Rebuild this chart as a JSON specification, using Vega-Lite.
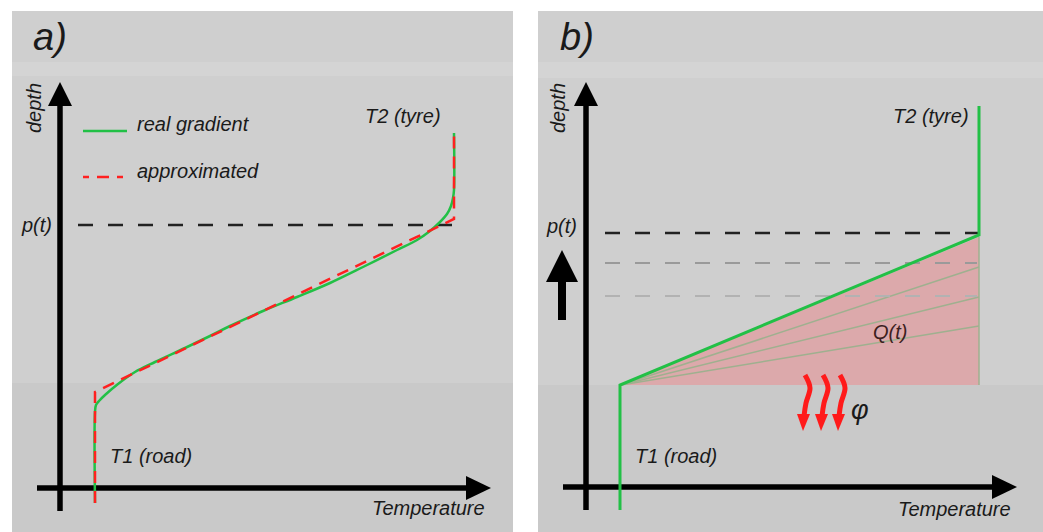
{
  "$schema": "https://vega.github.io/schema/vega-lite/v6.json",
  "width": 1043,
  "height": 532,
  "autosize": {"type": "fit", "contains": "padding"},
  "padding": 0,
  "background": "#ffffff",
  "config": {"view": {"stroke": null}},
  "encoding": {
    "x": {"field": "x", "type": "quantitative", "scale": {"domain": [0, 1043], "nice": false, "zero": false}, "axis": null},
    "y": {"field": "y", "type": "quantitative", "scale": {"domain": [0, 532], "nice": false, "zero": false, "reverse": true}, "axis": null}
  },
  "layer": [
    {
      "data": {"values": [{"x": 12, "x2": 513, "y": 11, "y2": 384}, {"x": 538, "x2": 1043, "y": 11, "y2": 385}]},
      "mark": {"type": "rect", "color": "#cfcfcf"},
      "encoding": {"x2": {"field": "x2"}, "y2": {"field": "y2"}}
    },
    {
      "data": {"values": [{"x": 12, "x2": 513, "y": 62, "y2": 76}, {"x": 538, "x2": 1043, "y": 62, "y2": 78}]},
      "mark": {"type": "rect", "color": "#d4d4d4"},
      "encoding": {"x2": {"field": "x2"}, "y2": {"field": "y2"}}
    },
    {
      "data": {"values": [{"x": 12, "x2": 513, "y": 383, "y2": 532}, {"x": 538, "x2": 1043, "y": 385, "y2": 532}]},
      "mark": {"type": "rect", "color": "#c9c9c9"},
      "encoding": {"x2": {"field": "x2"}, "y2": {"field": "y2"}}
    },
    {
      "data": {"values": [{"x": 621, "y": 385, "y2": 385}, {"x": 979, "y": 237, "y2": 385}]},
      "mark": {"type": "area", "color": "#dca9ab", "opacity": 1},
      "encoding": {"y2": {"field": "y2"}}
    },
    {
      "data": {"values": [
        {"x": 621, "y": 385, "x2": 979, "y2": 267},
        {"x": 621, "y": 385, "x2": 979, "y2": 297},
        {"x": 621, "y": 385, "x2": 979, "y2": 326},
        {"x": 979, "y": 237, "x2": 979, "y2": 385}
      ]},
      "mark": {"type": "rule", "color": "#9fb08f", "strokeWidth": 1.5},
      "encoding": {"x2": {"field": "x2"}, "y2": {"field": "y2"}}
    },
    {
      "data": {"values": [{"x": 605, "y": 263, "x2": 977, "y2": 263}]},
      "mark": {"type": "rule", "color": "#9a9a9a", "strokeWidth": 2, "strokeDash": [15, 15]},
      "encoding": {"x2": {"field": "x2"}, "y2": {"field": "y2"}}
    },
    {
      "data": {"values": [{"x": 605, "y": 296, "x2": 977, "y2": 296}]},
      "mark": {"type": "rule", "color": "#b2b2b2", "strokeWidth": 2, "strokeDash": [15, 15]},
      "encoding": {"x2": {"field": "x2"}, "y2": {"field": "y2"}}
    },
    {
      "data": {"values": [{"x": 78, "y": 225, "x2": 452, "y2": 225}, {"x": 605, "y": 233, "x2": 978, "y2": 233}]},
      "mark": {"type": "rule", "color": "#222222", "strokeWidth": 2.5, "strokeDash": [15, 15]},
      "encoding": {"x2": {"field": "x2"}, "y2": {"field": "y2"}}
    },
    {
      "data": {"values": [
        {"x": 60, "y": 100, "x2": 60, "y2": 511},
        {"x": 37, "y": 488, "x2": 470, "y2": 488},
        {"x": 586, "y": 100, "x2": 586, "y2": 510},
        {"x": 563, "y": 487, "x2": 996, "y2": 487}
      ]},
      "mark": {"type": "rule", "color": "#000000", "strokeWidth": 5.5},
      "encoding": {"x2": {"field": "x2"}, "y2": {"field": "y2"}}
    },
    {
      "data": {"values": [{"x": 562, "y": 279, "x2": 562, "y2": 320}]},
      "mark": {"type": "rule", "color": "#000000", "strokeWidth": 8},
      "encoding": {"x2": {"field": "x2"}, "y2": {"field": "y2"}}
    },
    {
      "data": {"values": [
        {"id": "ay", "x": 48, "y": 106, "y2": 106},
        {"id": "ay", "x": 60, "y": 82, "y2": 106},
        {"id": "ay", "x": 72, "y": 106, "y2": 106},
        {"id": "ax", "x": 466, "y": 476, "y2": 500},
        {"id": "ax", "x": 491, "y": 488, "y2": 488},
        {"id": "by", "x": 574, "y": 106, "y2": 106},
        {"id": "by", "x": 586, "y": 82, "y2": 106},
        {"id": "by", "x": 598, "y": 106, "y2": 106},
        {"id": "bx", "x": 992, "y": 475, "y2": 499},
        {"id": "bx", "x": 1017, "y": 487, "y2": 487},
        {"id": "up", "x": 546, "y": 282, "y2": 282},
        {"id": "up", "x": 562, "y": 250, "y2": 282},
        {"id": "up", "x": 578, "y": 282, "y2": 282}
      ]},
      "mark": {"type": "area", "color": "#000000", "opacity": 1},
      "encoding": {"y2": {"field": "y2"}, "detail": {"field": "id"}}
    },
    {
      "data": {"values": [{"x": 83, "y": 131, "x2": 127, "y2": 131}]},
      "mark": {"type": "rule", "color": "#22c046", "strokeWidth": 2.5},
      "encoding": {"x2": {"field": "x2"}, "y2": {"field": "y2"}}
    },
    {
      "data": {"values": [{"x": 83, "y": 177, "x2": 127, "y2": 177}]},
      "mark": {"type": "rule", "color": "#ff2020", "strokeWidth": 2.5, "strokeDash": [6, 8, 12, 8]},
      "encoding": {"x2": {"field": "x2"}, "y2": {"field": "y2"}}
    },
    {
      "data": {"values": [
        {"o": 1, "x": 95, "y": 503}, {"o": 2, "x": 95, "y": 412}, {"o": 3, "x": 96, "y": 405},
        {"o": 4, "x": 99, "y": 401}, {"o": 5, "x": 105, "y": 395}, {"o": 6, "x": 118, "y": 384},
        {"o": 7, "x": 135, "y": 372}, {"o": 8, "x": 155, "y": 362}, {"o": 9, "x": 185, "y": 348},
        {"o": 10, "x": 210, "y": 336}, {"o": 11, "x": 230, "y": 326}, {"o": 12, "x": 263, "y": 311},
        {"o": 13, "x": 297, "y": 297}, {"o": 14, "x": 330, "y": 283}, {"o": 15, "x": 363, "y": 267},
        {"o": 16, "x": 397, "y": 250}, {"o": 17, "x": 417, "y": 240}, {"o": 18, "x": 430, "y": 231},
        {"o": 19, "x": 440, "y": 222}, {"o": 20, "x": 447, "y": 214}, {"o": 21, "x": 451, "y": 206},
        {"o": 22, "x": 453, "y": 198}, {"o": 23, "x": 454, "y": 190}, {"o": 24, "x": 454, "y": 133}
      ]},
      "mark": {"type": "line", "color": "#22c046", "strokeWidth": 2.5, "strokeJoin": "round", "interpolate": "catmull-rom"},
      "encoding": {"order": {"field": "o"}}
    },
    {
      "data": {"values": [
        {"o": 1, "x": 95, "y": 503}, {"o": 2, "x": 95, "y": 392},
        {"o": 3, "x": 454, "y": 219}, {"o": 4, "x": 454, "y": 133}
      ]},
      "mark": {"type": "line", "color": "#ff2020", "strokeWidth": 2.5, "strokeDash": [12, 8]},
      "encoding": {"order": {"field": "o"}}
    },
    {
      "data": {"values": [
        {"o": 1, "x": 620, "y": 510}, {"o": 2, "x": 620, "y": 385},
        {"o": 3, "x": 979, "y": 235}, {"o": 4, "x": 979, "y": 106}
      ]},
      "mark": {"type": "line", "color": "#22c046", "strokeWidth": 3, "strokeJoin": "miter"},
      "encoding": {"order": {"field": "o"}}
    },
    {
      "data": {"values": [
        {"id": "w1", "o": 1, "x": 805, "y": 375}, {"id": "w1", "o": 2, "x": 810, "y": 388}, {"id": "w1", "o": 3, "x": 806, "y": 403}, {"id": "w1", "o": 4, "x": 804, "y": 416},
        {"id": "w2", "o": 1, "x": 823, "y": 375}, {"id": "w2", "o": 2, "x": 828, "y": 388}, {"id": "w2", "o": 3, "x": 824, "y": 403}, {"id": "w2", "o": 4, "x": 822, "y": 416},
        {"id": "w3", "o": 1, "x": 840, "y": 375}, {"id": "w3", "o": 2, "x": 845, "y": 388}, {"id": "w3", "o": 3, "x": 841, "y": 403}, {"id": "w3", "o": 4, "x": 839, "y": 416}
      ]},
      "mark": {"type": "line", "color": "#ff1a1a", "strokeWidth": 5, "interpolate": "cardinal", "strokeCap": "butt"},
      "encoding": {"order": {"field": "o"}, "detail": {"field": "id"}}
    },
    {
      "data": {"values": [
        {"id": "h1", "x": 797, "y": 414, "y2": 414}, {"id": "h1", "x": 803, "y": 431, "y2": 414}, {"id": "h1", "x": 810, "y": 414, "y2": 414},
        {"id": "h2", "x": 815, "y": 414, "y2": 414}, {"id": "h2", "x": 821, "y": 431, "y2": 414}, {"id": "h2", "x": 828, "y": 414, "y2": 414},
        {"id": "h3", "x": 832, "y": 414, "y2": 414}, {"id": "h3", "x": 838, "y": 431, "y2": 414}, {"id": "h3", "x": 845, "y": 414, "y2": 414}
      ]},
      "mark": {"type": "area", "color": "#ff1a1a", "opacity": 1},
      "encoding": {"y2": {"field": "y2"}, "detail": {"field": "id"}}
    },
    {
      "data": {"values": [
        {"t": "real gradient", "x": 137, "y": 131},
        {"t": "approximated", "x": 137, "y": 178},
        {"t": "T2 (tyre)", "x": 365, "y": 123},
        {"t": "p(t)", "x": 22, "y": 232},
        {"t": "T1 (road)", "x": 110, "y": 463},
        {"t": "Temperature", "x": 372, "y": 515},
        {"t": "T2 (tyre)", "x": 893, "y": 123},
        {"t": "p(t)", "x": 547, "y": 233},
        {"t": "T1 (road)", "x": 635, "y": 463},
        {"t": "Temperature", "x": 898, "y": 516}
      ]},
      "mark": {"type": "text", "font": "Liberation Sans", "fontStyle": "italic", "fontSize": 20, "color": "#1a1a1a", "align": "left", "baseline": "alphabetic"},
      "encoding": {"text": {"field": "t"}}
    },
    {
      "data": {"values": [{"t": "Q(t)", "x": 873, "y": 339}]},
      "mark": {"type": "text", "font": "Liberation Sans", "fontStyle": "italic", "fontSize": 20, "color": "#3c1e1e", "align": "left", "baseline": "alphabetic"},
      "encoding": {"text": {"field": "t"}}
    },
    {
      "data": {"values": [{"t": "φ", "x": 851, "y": 419}]},
      "mark": {"type": "text", "font": "Liberation Sans", "fontStyle": "italic", "fontSize": 27, "color": "#1a1a1a", "align": "left", "baseline": "alphabetic"},
      "encoding": {"text": {"field": "t"}}
    },
    {
      "data": {"values": [{"t": "a)", "x": 33, "y": 50}, {"t": "b)", "x": 560, "y": 50}]},
      "mark": {"type": "text", "font": "Liberation Sans", "fontStyle": "italic", "fontSize": 38, "color": "#1a1a1a", "align": "left", "baseline": "alphabetic"},
      "encoding": {"text": {"field": "t"}}
    },
    {
      "data": {"values": [{"t": "depth", "x": 41, "y": 108}, {"t": "depth", "x": 565, "y": 108}]},
      "mark": {"type": "text", "font": "Liberation Sans", "fontStyle": "italic", "fontSize": 20, "color": "#1a1a1a", "align": "center", "baseline": "alphabetic", "angle": 270},
      "encoding": {"text": {"field": "t"}}
    }
  ]
}
